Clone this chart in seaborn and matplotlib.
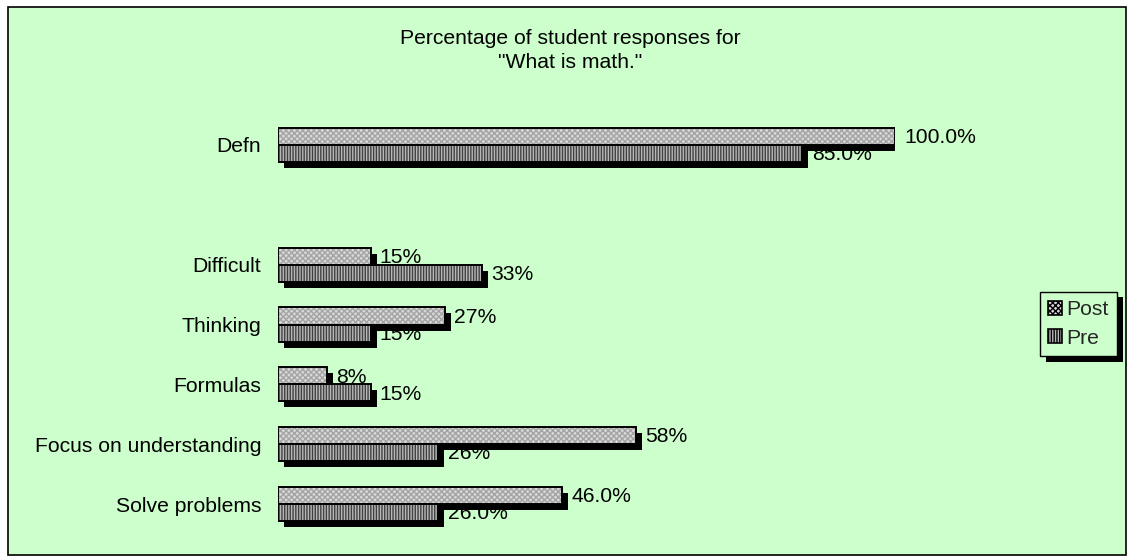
import numpy as np
import pandas as pd
import matplotlib
matplotlib.use("Agg")
import matplotlib.pyplot as plt
import matplotlib.patheffects as pe
import matplotlib.transforms as mtransforms
from matplotlib.patches import Patch, Rectangle
import seaborn as sns

# chart data
categories = ["Defn", " ", "Difficult", "Thinking", "Formulas",
              "Focus on understanding", "Solve problems"]
groups = ["Post", "Pre"]
post_values = [100.0, None, 15, 27, 8, 58, 46.0]
pre_values = [85.0, None, 33, 15, 15, 26, 26.0]
post_labels = ["100.0%", "", "15%", "27%", "8%", "58%", "46.0%"]
pre_labels = ["85.0%", "", "33%", "15%", "15%", "26%", "26.0%"]
title = 'Percentage of student responses for\n"What is math."'

BG = "#CCFFCC"
W, H = 1129, 559
FS = 15.2

sns.set_theme(style="white")
plt.rcParams["font.family"] = ["Liberation Sans", "DejaVu Sans"]
plt.rcParams["hatch.linewidth"] = 1.0

rows = []
for cat, post, pre in zip(categories, post_values, pre_values):
    if post is not None:
        rows.append({"category": cat, "group": "Post", "value": post})
        rows.append({"category": cat, "group": "Pre", "value": pre})
df = pd.DataFrame(rows)

fig = plt.figure(figsize=(W / 100, H / 100), dpi=100)
fig.patch.set_facecolor("white")

# outer chart area with border
frame = Rectangle((8 / W, 1 - 555 / H), 1118 / W, 548 / H, transform=fig.transFigure,
                  facecolor=BG, edgecolor="black", linewidth=1.2, zorder=-5)
fig.patches.append(frame)

ax = fig.add_axes([278 / W, 1 - 534 / H, 617 / W, 419 / H])
ax.set_facecolor("none")
ax.patch.set_alpha(0)

styles = {
    "Post": dict(face="#d8d8d8", hatch="xxxxxx", hcolor="#a4a4a4"),
    "Pre": dict(face="#b8b8b8", hatch="||||||", hcolor="#404040"),
}

sns.barplot(data=df, y="category", x="value", hue="group", order=categories,
            hue_order=groups, orient="h", width=0.57, ax=ax,
            palette=[styles[g]["face"] for g in groups], legend=False,
            saturation=1)

# black drop shadow, 6 px right and down
shift = mtransforms.ScaledTranslation(6 / 100, -6 / 100, fig.dpi_scale_trans)
for container, grp in zip(ax.containers, groups):
    st = styles[grp]
    for bar in container:
        bar.set_hatch(st["hatch"])
        bar.set_edgecolor(st["hcolor"])
        bar.set_linewidth(0)
        bar.set_zorder(2)
        sh = Rectangle(bar.get_xy(), bar.get_width(), bar.get_height(),
                       facecolor="black", edgecolor="none", zorder=1.5,
                       transform=ax.transData + shift)
        ax.add_patch(sh)
        outline = Rectangle(bar.get_xy(), bar.get_width(), bar.get_height(),
                            fill=False, edgecolor="black", linewidth=1.4, zorder=3)
        ax.add_patch(outline)

# value labels, drawn beneath the bars and shadows
for container, labels in zip(ax.containers, [post_labels, pre_labels]):
    bar_labels = [lab for lab in labels if lab]
    for bar, lab in zip(container, bar_labels):
        y = bar.get_y() + bar.get_height() / 2
        ax.text(bar.get_width() + 1.5, y + 0.02, lab, ha="left", va="center",
                fontsize=FS, color="black", zorder=1, clip_on=False)

ax.set_xlim(0, 100)
ax.set_ylim(6.5, -0.5)
ax.set_xlabel("")
ax.set_ylabel("")
ax.set_xticks([])
ax.tick_params(axis="y", length=0, pad=12, labelsize=FS, labelcolor="black")
for sp in ax.spines.values():
    sp.set_visible(False)

fig.text(570 / W, 1 - 29 / H, title, ha="center", va="top", fontsize=FS,
         multialignment="center", linespacing=1.3, color="black")

handles = [Patch(facecolor=styles[g]["face"], edgecolor="black", hatch=styles[g]["hatch"],
                 linewidth=1.2) for g in groups]
leg = ax.legend(handles=handles, labels=groups, loc="center left",
                bbox_to_anchor=(1040 / W, 1 - 324 / H), bbox_transform=fig.transFigure,
                frameon=True, fancybox=False, framealpha=1, edgecolor="black",
                facecolor=BG, fontsize=FS, handlelength=0.65, handleheight=0.65,
                handletextpad=0.2, borderpad=0.4, labelspacing=0.45, borderaxespad=0)
leg.get_frame().set_linewidth(1)
leg.get_frame().set_path_effects([
    pe.SimplePatchShadow(offset=(4, -4), shadow_rgbFace="black", alpha=1.0), pe.Normal()])

fig.savefig("out.png", dpi=100, facecolor=fig.get_facecolor())
